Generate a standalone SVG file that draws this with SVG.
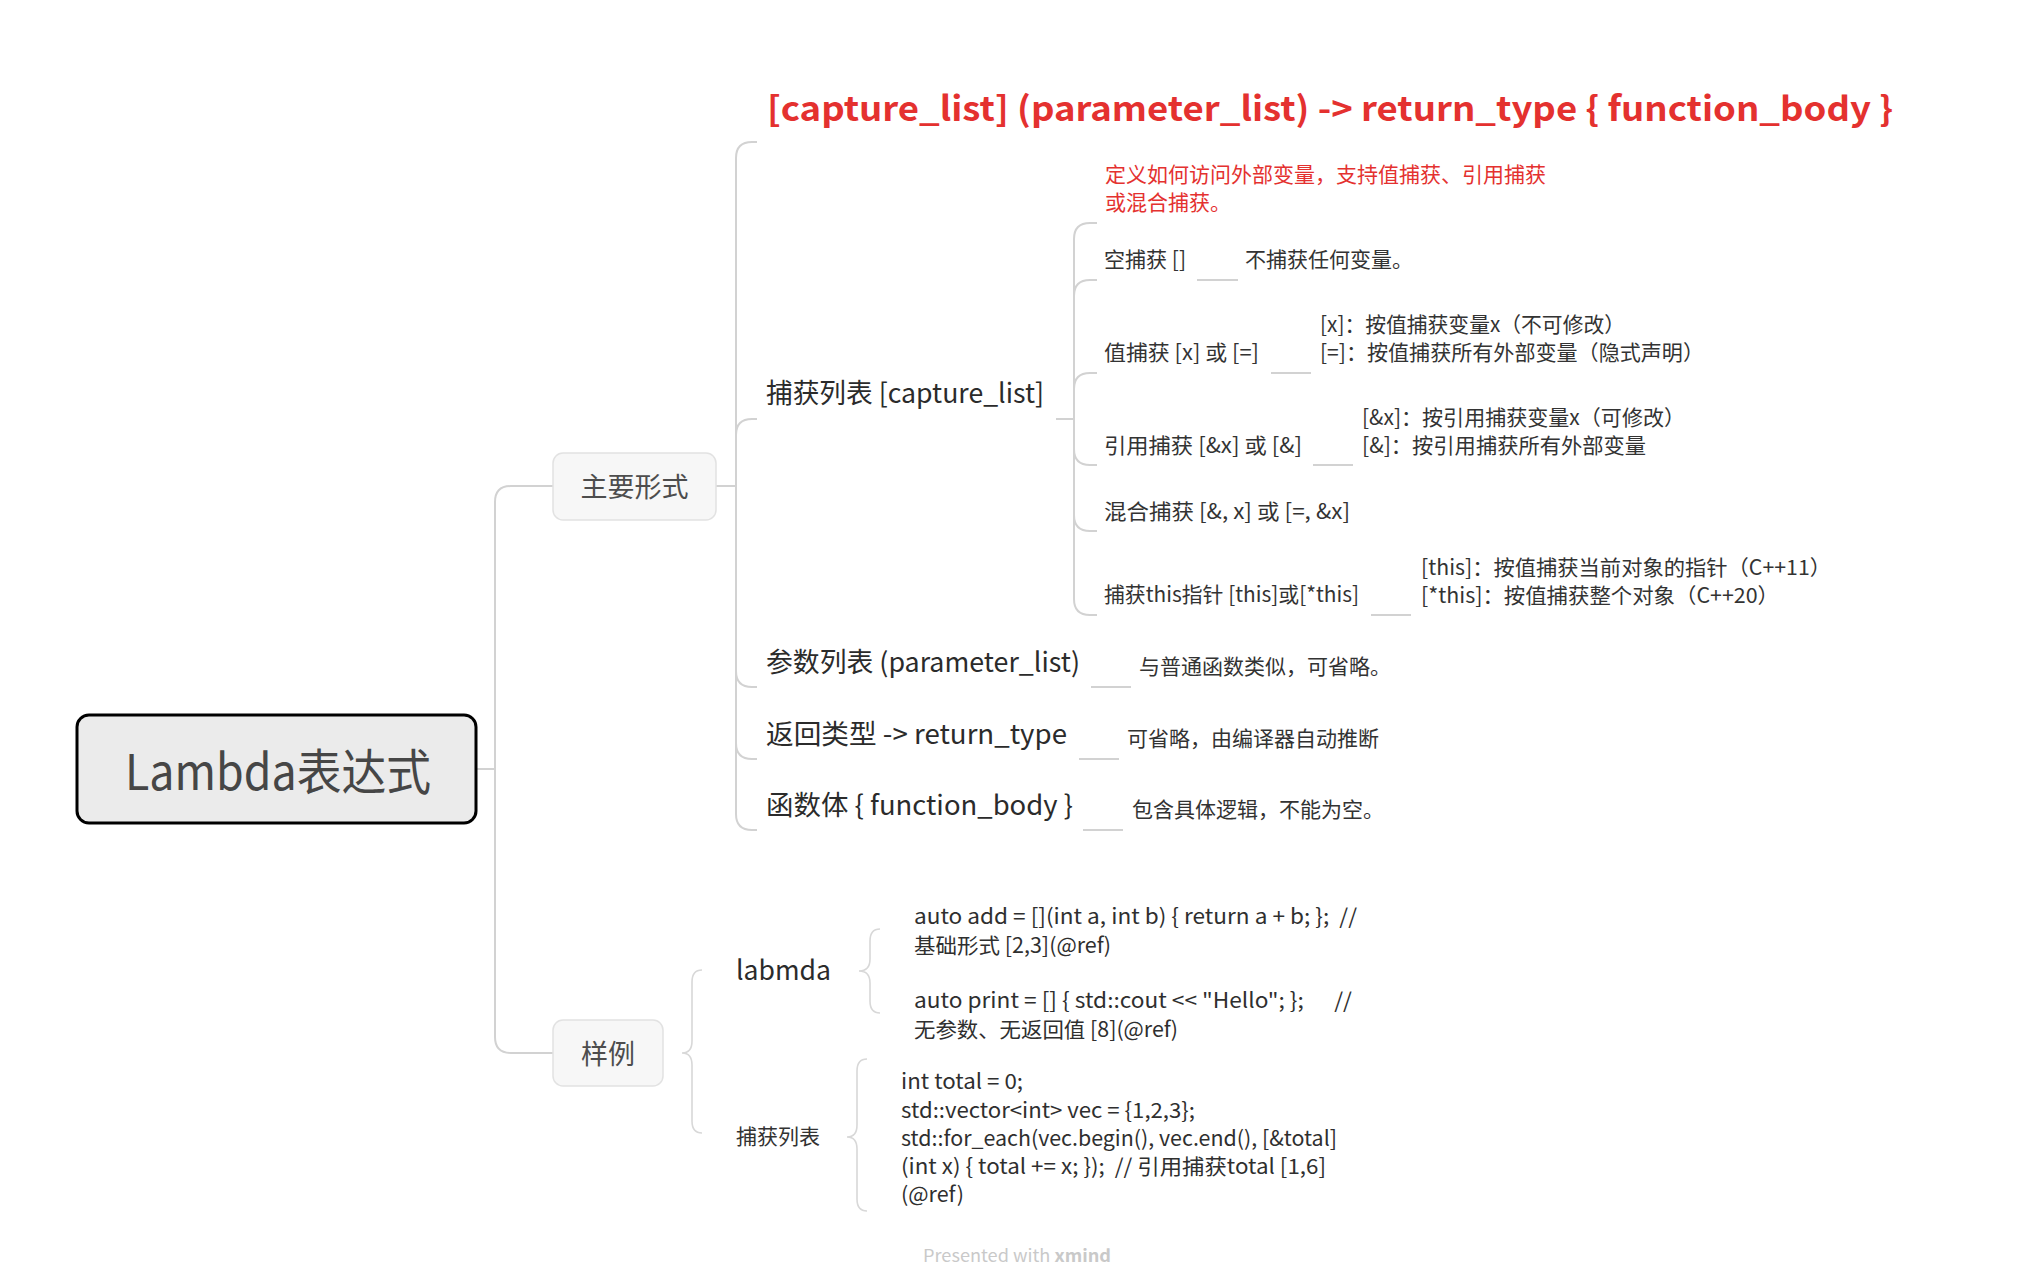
<svg xmlns="http://www.w3.org/2000/svg" width="2034" height="1287" viewBox="0 0 2034 1287">
<style>
text{font-family:"Noto Sans CJK SC","Noto Sans",sans-serif;}
.l1{font-size:27px;fill:#2b2b2b;}
.l2{font-size:21px;fill:#333333;}
.code{font-size:21px;fill:#2f2f2f;}
.conn{fill:none;stroke:#d2d2d2;stroke-width:2;}
.brace{fill:none;stroke:#d8d8d8;stroke-width:1.6;}
.box{fill:#f7f7f7;stroke:#e2e2e2;stroke-width:1.5;}
.boxt{font-size:27px;fill:#4d4d4d;text-anchor:middle;}
.red{fill:#e4312f;}
</style>
<rect width="2034" height="1287" fill="#ffffff"/>
<g id="connectors">
<path class="conn" d="M476,769 H495"/>
<path class="conn" d="M495,769 V502 Q495,486 511,486 H553"/>
<path class="conn" d="M495,769 V1037 Q495,1053 511,1053 H553"/>
<path class="conn" d="M716,486 H736"/>
<path class="conn" d="M736,486 V158 Q736,142 752,142 H757"/>
<path class="conn" d="M736,486 V435 Q736,419 752,419 H757"/>
<path class="conn" d="M736,486 V671 Q736,687 752,687 H757"/>
<path class="conn" d="M736,486 V743 Q736,759 752,759 H757"/>
<path class="conn" d="M736,486 V814 Q736,830 752,830 H757"/>
<path class="conn" d="M1056,419 H1074"/>
<path class="conn" d="M1074,419 V239 Q1074,223 1090,223 H1097"/>
<path class="conn" d="M1074,419 V296 Q1074,280 1090,280 H1097"/>
<path class="conn" d="M1074,419 V389 Q1074,373 1090,373 H1097"/>
<path class="conn" d="M1074,419 V449 Q1074,465 1090,465 H1097"/>
<path class="conn" d="M1074,419 V515 Q1074,531 1090,531 H1097"/>
<path class="conn" d="M1074,419 V599 Q1074,615 1090,615 H1097"/>
<path class="conn" d="M1197,280 H1238"/>
<path class="conn" d="M1271,373 H1311"/>
<path class="conn" d="M1313,465 H1353"/>
<path class="conn" d="M1371,615 H1411"/>
<path class="conn" d="M1091,687 H1131"/>
<path class="conn" d="M1079,759 H1119"/>
<path class="conn" d="M1083,830 H1123"/>
<path class="brace" d="M702,970 Q692,970 692,982 V1041 Q692,1053 682,1053 Q692,1053 692,1065 V1121 Q692,1133 702,1133"/>
<path class="brace" d="M880,929 Q870,929 870,941 V959 Q870,971 859,971 Q870,971 870,983 V1001 Q870,1013 880,1013"/>
<path class="brace" d="M867,1059 Q857,1059 857,1071 V1125 Q857,1137 847,1137 Q857,1137 857,1149 V1199 Q857,1211 867,1211"/>
</g>
<g id="root">
<rect x="77" y="715" width="399" height="108" rx="12" fill="#ebebeb" stroke="#000000" stroke-width="3"/>
<text x="125" y="790" font-size="49" fill="#464646" textLength="306" lengthAdjust="spacingAndGlyphs">Lambda表达式</text>
</g>
<g id="main-form">
<rect class="box" x="553" y="453" width="163" height="67" rx="10"/>
<text class="boxt" x="634.5" y="497">主要形式</text>
</g>
<g id="samples">
<rect class="box" x="553" y="1020" width="110" height="66" rx="10"/>
<text class="boxt" x="608" y="1064">样例</text>
</g>
<g id="syntax">
<text class="red" x="767" y="121" font-size="34" font-weight="bold" textLength="1126" lengthAdjust="spacingAndGlyphs">[capture_list] (parameter_list) -&gt; return_type { function_body }</text>
</g>
<g id="capture-list">
<text class="l1" x="766" y="403" textLength="278" lengthAdjust="spacingAndGlyphs">捕获列表 [capture_list]</text>
</g>
<g id="capture-desc">
<text class="l2 red" x="1105" y="182">定义如何访问外部变量，支持值捕获、引用捕获</text>
<text class="l2 red" x="1105" y="210">或混合捕获。</text>
</g>
<g id="empty-capture">
<text class="l2" x="1104" y="267" textLength="82" lengthAdjust="spacingAndGlyphs">空捕获 []</text>
</g>
<g id="empty-capture-desc">
<text class="l2" x="1245" y="267">不捕获任何变量。</text>
</g>
<g id="value-capture">
<text class="l2" x="1104" y="360" textLength="155" lengthAdjust="spacingAndGlyphs">值捕获 [x] 或 [=]</text>
</g>
<g id="value-capture-desc">
<text class="l2" x="1320" y="332" textLength="305" lengthAdjust="spacingAndGlyphs">[x]：按值捕获变量x（不可修改）</text>
<text class="l2" x="1320" y="360" textLength="384" lengthAdjust="spacingAndGlyphs">[=]：按值捕获所有外部变量（隐式声明）</text>
</g>
<g id="ref-capture">
<text class="l2" x="1104" y="453" textLength="198" lengthAdjust="spacingAndGlyphs">引用捕获 [&amp;x] 或 [&amp;]</text>
</g>
<g id="ref-capture-desc">
<text class="l2" x="1362" y="425" textLength="323" lengthAdjust="spacingAndGlyphs">[&amp;x]：按引用捕获变量x（可修改）</text>
<text class="l2" x="1362" y="453" textLength="284" lengthAdjust="spacingAndGlyphs">[&amp;]：按引用捕获所有外部变量</text>
</g>
<g id="mixed-capture">
<text class="l2" x="1104" y="519" textLength="246" lengthAdjust="spacingAndGlyphs">混合捕获 [&amp;, x] 或 [=, &amp;x]</text>
</g>
<g id="this-capture">
<text class="l2" x="1104" y="602" textLength="255" lengthAdjust="spacingAndGlyphs">捕获this指针 [this]或[*this]</text>
</g>
<g id="this-capture-desc">
<text class="l2" x="1421" y="575" textLength="410" lengthAdjust="spacingAndGlyphs">[this]：按值捕获当前对象的指针（C++11）</text>
<text class="l2" x="1421" y="603" textLength="358" lengthAdjust="spacingAndGlyphs">[*this]：按值捕获整个对象（C++20）</text>
</g>
<g id="param-list">
<text class="l1" x="766" y="672" textLength="314" lengthAdjust="spacingAndGlyphs">参数列表 (parameter_list)</text>
</g>
<g id="param-list-desc">
<text class="l2" x="1139" y="674">与普通函数类似，可省略。</text>
</g>
<g id="return-type">
<text class="l1" x="766" y="744" textLength="301" lengthAdjust="spacingAndGlyphs">返回类型 -&gt; return_type</text>
</g>
<g id="return-type-desc">
<text class="l2" x="1127" y="746">可省略，由编译器自动推断</text>
</g>
<g id="function-body">
<text class="l1" x="766" y="815" textLength="307" lengthAdjust="spacingAndGlyphs">函数体 { function_body }</text>
</g>
<g id="function-body-desc">
<text class="l2" x="1132" y="817">包含具体逻辑，不能为空。</text>
</g>
<g id="labmda">
<text class="l1" x="736" y="980" textLength="95" lengthAdjust="spacingAndGlyphs">labmda</text>
</g>
<g id="labmda-add">
<text class="code" x="914" y="924" xml:space="preserve" textLength="443" lengthAdjust="spacingAndGlyphs">auto add = [](int a, int b) { return a + b; };  //</text>
<text class="code" x="914" y="953" textLength="197" lengthAdjust="spacingAndGlyphs">基础形式 [2,3](@ref)</text>
</g>
<g id="labmda-print">
<text class="code" x="914" y="1008" xml:space="preserve" textLength="438" lengthAdjust="spacingAndGlyphs">auto print = [] { std::cout &lt;&lt; "Hello"; };      //</text>
<text class="code" x="914" y="1037" textLength="264" lengthAdjust="spacingAndGlyphs">无参数、无返回值 [8](@ref)</text>
</g>
<g id="capture-sample">
<text class="l2" x="736" y="1144">捕获列表</text>
</g>
<g id="capture-sample-code">
<text class="code" x="901" y="1089" textLength="122" lengthAdjust="spacingAndGlyphs">int total = 0;</text>
<text class="code" x="901" y="1118" textLength="294" lengthAdjust="spacingAndGlyphs">std::vector&lt;int&gt; vec = {1,2,3};</text>
<text class="code" x="901" y="1146" textLength="436" lengthAdjust="spacingAndGlyphs">std::for_each(vec.begin(), vec.end(), [&amp;total]</text>
<text class="code" x="901" y="1174" xml:space="preserve" textLength="425" lengthAdjust="spacingAndGlyphs">(int x) { total += x; });  // 引用捕获total [1,6]</text>
<text class="code" x="901" y="1202" textLength="63" lengthAdjust="spacingAndGlyphs">(@ref)</text>
</g>
<g id="watermark">
<text x="923" y="1262" font-family="Noto Sans, sans-serif" font-size="17" fill="#c9c9c9" textLength="188" lengthAdjust="spacingAndGlyphs">Presented with <tspan font-weight="bold">xmind</tspan></text>
</g>
</svg>
